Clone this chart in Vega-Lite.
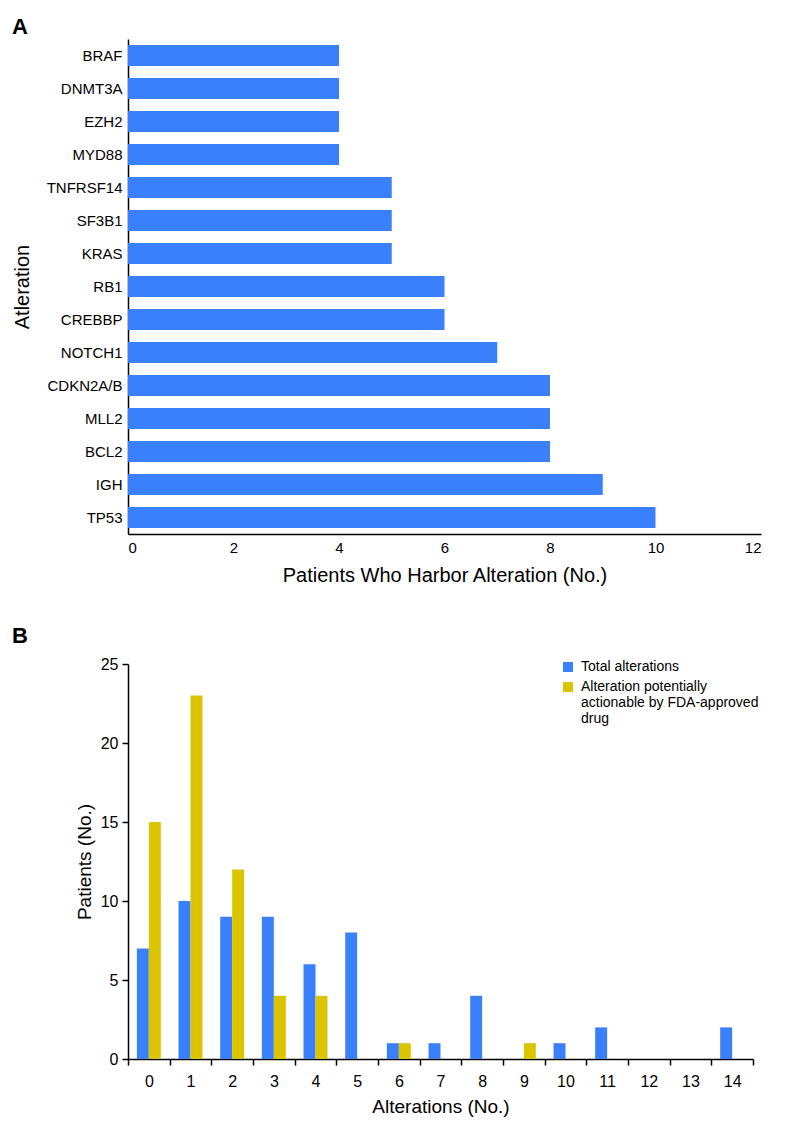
{
  "$schema": "https://vega.github.io/schema/vega-lite/v6.json",
  "background": "white",
  "padding": {"left": 12, "top": 16, "right": 5, "bottom": 5},
  "spacing": 40,
  "resolve": {"scale": {"color": "independent"}, "legend": {"color": "independent"}},
  "config": {
    "font": "Liberation Sans",
    "view": {"stroke": null},
    "axis": {"grid": false, "domainColor": "#000", "domainWidth": 1.5, "labelColor": "#000", "titleColor": "#000", "tickColor": "#000", "tickWidth": 1.5, "titleFontWeight": "normal"},
    "legend": {"labelColor": "#000"}
  },
  "vconcat": [
    {
      "title": {"text": "A", "anchor": "start", "frame": "group", "dx": -116, "fontSize": 22, "fontWeight": "bold", "baseline": "alphabetic", "offset": -17, "color": "#000"},
      "width": 633,
      "height": 495,
      "data": {"values": [
        {"gene": "BRAF", "count": 4},
        {"gene": "DNMT3A", "count": 4},
        {"gene": "EZH2", "count": 4},
        {"gene": "MYD88", "count": 4},
        {"gene": "TNFRSF14", "count": 5},
        {"gene": "SF3B1", "count": 5},
        {"gene": "KRAS", "count": 5},
        {"gene": "RB1", "count": 6},
        {"gene": "CREBBP", "count": 6},
        {"gene": "NOTCH1", "count": 7},
        {"gene": "CDKN2A/B", "count": 8},
        {"gene": "MLL2", "count": 8},
        {"gene": "BCL2", "count": 8},
        {"gene": "IGH", "count": 9},
        {"gene": "TP53", "count": 10}
      ]},
      "mark": {"type": "bar", "color": "#3b80fb"},
      "encoding": {
        "y": {"field": "gene", "type": "nominal", "sort": null,
          "scale": {"paddingInner": 0.36, "paddingOuter": 0.18},
          "axis": {"title": "Atleration", "ticks": false, "labelFontSize": 15, "labelPadding": 6, "titleFontSize": 20, "titlePadding": 14}},
        "x": {"field": "count", "type": "quantitative", "scale": {"domain": [0, 12]},
          "axis": {"title": "Patients Who Harbor Alteration (No.)", "values": [0, 2, 4, 6, 8, 10, 12], "ticks": false, "tickSize": 0, "labelFontSize": 15, "labelPadding": 6, "titleFontSize": 20, "titlePadding": 10}}
      }
    },
    {
      "title": {"text": "B", "anchor": "start", "frame": "group", "dx": -116, "fontSize": 22, "fontWeight": "bold", "baseline": "alphabetic", "offset": -9, "color": "#000"},
      "width": 625,
      "height": 395,
      "data": {"values": [
        {"n": 0, "series": "Total alterations", "patients": 7},
        {"n": 1, "series": "Total alterations", "patients": 10},
        {"n": 2, "series": "Total alterations", "patients": 9},
        {"n": 3, "series": "Total alterations", "patients": 9},
        {"n": 4, "series": "Total alterations", "patients": 6},
        {"n": 5, "series": "Total alterations", "patients": 8},
        {"n": 6, "series": "Total alterations", "patients": 1},
        {"n": 7, "series": "Total alterations", "patients": 1},
        {"n": 8, "series": "Total alterations", "patients": 4},
        {"n": 9, "series": "Total alterations", "patients": 0},
        {"n": 10, "series": "Total alterations", "patients": 1},
        {"n": 11, "series": "Total alterations", "patients": 2},
        {"n": 12, "series": "Total alterations", "patients": 0},
        {"n": 13, "series": "Total alterations", "patients": 0},
        {"n": 14, "series": "Total alterations", "patients": 2},
        {"n": 0, "series": "Alteration potentially|actionable by FDA-approved|drug", "patients": 15},
        {"n": 1, "series": "Alteration potentially|actionable by FDA-approved|drug", "patients": 23},
        {"n": 2, "series": "Alteration potentially|actionable by FDA-approved|drug", "patients": 12},
        {"n": 3, "series": "Alteration potentially|actionable by FDA-approved|drug", "patients": 4},
        {"n": 4, "series": "Alteration potentially|actionable by FDA-approved|drug", "patients": 4},
        {"n": 5, "series": "Alteration potentially|actionable by FDA-approved|drug", "patients": 0},
        {"n": 6, "series": "Alteration potentially|actionable by FDA-approved|drug", "patients": 1},
        {"n": 7, "series": "Alteration potentially|actionable by FDA-approved|drug", "patients": 0},
        {"n": 8, "series": "Alteration potentially|actionable by FDA-approved|drug", "patients": 0},
        {"n": 9, "series": "Alteration potentially|actionable by FDA-approved|drug", "patients": 1},
        {"n": 10, "series": "Alteration potentially|actionable by FDA-approved|drug", "patients": 0},
        {"n": 11, "series": "Alteration potentially|actionable by FDA-approved|drug", "patients": 0},
        {"n": 12, "series": "Alteration potentially|actionable by FDA-approved|drug", "patients": 0},
        {"n": 13, "series": "Alteration potentially|actionable by FDA-approved|drug", "patients": 0},
        {"n": 14, "series": "Alteration potentially|actionable by FDA-approved|drug", "patients": 0}
      ]},
      "mark": {"type": "bar"},
      "encoding": {
        "x": {"field": "n", "type": "ordinal",
          "scale": {"domain": [0, 1, 2, 3, 4, 5, 6, 7, 8, 9, 10, 11, 12, 13, 14], "paddingInner": 0, "paddingOuter": 0},
          "axis": {"title": "Alterations (No.)", "labelAngle": 0, "tickBand": "extent", "tickSize": 6, "labelFontSize": 16, "labelPadding": 8, "titleFontSize": 19, "titlePadding": 8}},
        "xOffset": {"field": "series", "type": "nominal",
          "sort": ["Total alterations", "Alteration potentially|actionable by FDA-approved|drug"],
          "scale": {"paddingOuter": 0.74, "paddingInner": 0}},
        "y": {"field": "patients", "type": "quantitative", "scale": {"domain": [0, 25]},
          "axis": {"title": "Patients (No.)", "values": [0, 5, 10, 15, 20, 25], "tickSize": 6, "labelFontSize": 16, "labelPadding": 4, "titleFontSize": 19, "titlePadding": 6}},
        "color": {"field": "series", "type": "nominal",
          "scale": {"domain": ["Total alterations", "Alteration potentially|actionable by FDA-approved|drug"], "range": ["#3b80fb", "#dac500"]},
          "legend": {"title": null, "orient": "none", "legendX": 433, "legendY": -4, "symbolType": "square", "symbolSize": 100, "symbolStrokeWidth": 0, "labelFontSize": 14, "labelExpr": "split(datum.label, '|')", "labelLimit": 400, "rowPadding": 6, "labelOffset": 6}}
      }
    }
  ]
}
